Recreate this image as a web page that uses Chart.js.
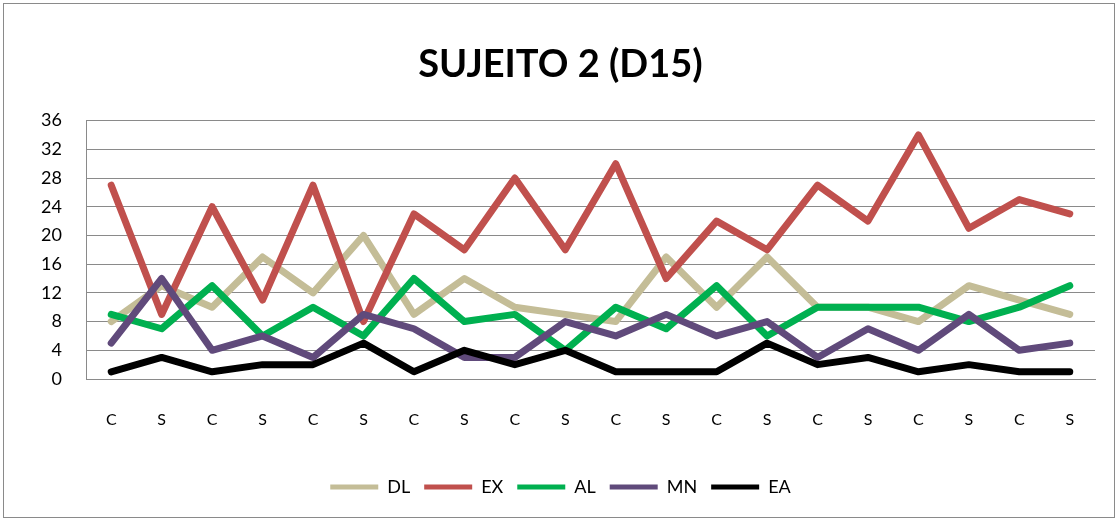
<!DOCTYPE html>
<html>
<head>
<meta charset="utf-8">
<title>SUJEITO 2 (D15)</title>
<script src="https://cdn.jsdelivr.net/npm/chart.js@4.4.1/dist/chart.umd.min.js"></script>
<style>
    html, body { margin: 0; padding: 0; background: #fff; }
    #wrap { width: 1119px; height: 522px; position: relative; }
</style>
</head>
<body>
<div id="wrap"><canvas id="chart" width="1119" height="522"></canvas></div>
<script>
const categories = ['C','S','C','S','C','S','C','S','C','S','C','S','C','S','C','S','C','S','C','S'];
const dlValues = [8,13,10,17,12,20,9,14,10,9,8,17,10,17,10,10,8,13,11,9];
const exValues = [27,9,24,11,27,8,23,18,28,18,30,14,22,18,27,22,34,21,25,23];
const alValues = [9,7,13,6,10,6,14,8,9,4,10,7,13,6,10,10,10,8,10,13];
const mnValues = [5,14,4,6,3,9,7,3,3,8,6,9,6,8,3,7,4,9,4,5];
const eaValues = [1,3,1,2,2,5,1,4,2,4,1,1,1,5,2,3,1,2,1,1];
const yTicks = [0,4,8,12,16,20,24,28,32,36];

const FONT = 'Lato, "Open Sans", sans-serif';
const LEFT_PAD = 26;

function makeSet(label, data, color, i) {
    return {
        label: label, data: data,
        borderColor: color, backgroundColor: color,
        borderWidth: 7, pointRadius: 0, pointHoverRadius: 0,
        tension: 0, borderCapStyle: 'round', borderJoinStyle: 'round',
        order: 5 - i   // later series drawn on top, like the original
    };
}

// grey frame round the whole chart area
const framePlugin = {
    id: 'frame',
    beforeDraw(chart) {
        const ctx = chart.ctx;
        ctx.save();
        ctx.fillStyle = '#fff';
        ctx.fillRect(0, 0, chart.width, chart.height);
        ctx.strokeStyle = '#8a8a8a';
        ctx.lineWidth = 1;
        ctx.strokeRect(3.5, 3.5, chart.width - 8, chart.height - 8);
        ctx.restore();
    }
};

const ctx = document.getElementById('chart').getContext('2d');
new Chart(ctx, {
    type: 'line',
    data: {
        labels: categories,
        datasets: [
            makeSet('DL', dlValues, '#c4bd97', 0),
            makeSet('EX', exValues, '#c0504d', 1),
            makeSet('AL', alValues, '#00b050', 2),
            makeSet('MN', mnValues, '#604a7b', 3),
            makeSet('EA', eaValues, '#000000', 4)
        ]
    },
    options: {
        responsive: false,
        animation: false,
        events: [],
        layout: { padding: { left: LEFT_PAD, right: 24, top: 0, bottom: 16 } },
        plugins: {
            tooltip: { enabled: false },
            title: {
                display: true,
                text: 'SUJEITO 2 (D15)',
                color: '#000',
                font: { family: FONT, size: 38, weight: 'bold' },
                padding: { top: 42, bottom: 33 }
            },
            legend: {
                position: 'bottom',
                labels: {
                    color: '#000',
                    font: { family: FONT, size: 18 },
                    usePointStyle: true,
                    pointStyle: 'line',
                    pointStyleWidth: 48,
                    padding: 14,
                    sort: (a, b) => a.datasetIndex - b.datasetIndex,
                    generateLabels(chart) {
                        const items = Chart.defaults.plugins.legend.labels.generateLabels(chart);
                        items.forEach(it => { it.lineWidth = 5; it.pointStyle = 'line'; });
                        return items;
                    }
                }
            }
        },
        scales: {
            x: {
                offset: true,
                grid: { display: false, drawTicks: false },
                border: { display: true, color: '#8a8a8a', width: 1 },
                ticks: { color: '#000', font: { family: FONT, size: 16 }, padding: 31, maxRotation: 0, autoSkip: false },
                afterFit(scale) { scale.height = 85; }
            },
            y: {
                min: 0, max: 36,
                afterBuildTicks(scale) { scale.ticks = yTicks.map(v => ({ value: v })); },
                grid: { color: '#8a8a8a', lineWidth: 1, drawTicks: false },
                border: { display: true, color: '#8a8a8a', width: 1 },
                ticks: { color: '#000', font: { family: FONT, size: 18 }, padding: 24 },
                afterFit(scale) { scale.width = 86 - LEFT_PAD; }
            }
        }
    },
    plugins: [framePlugin]
});
</script>
</body>
</html>
